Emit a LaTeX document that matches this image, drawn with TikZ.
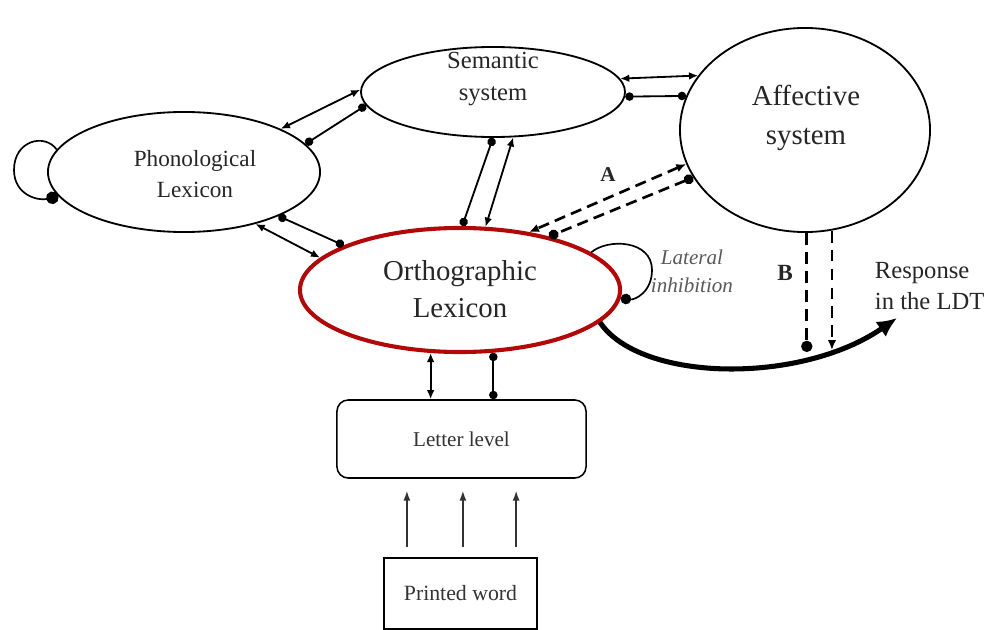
\documentclass[tikz,border=0pt]{standalone}
\usepackage{fontspec}
\setmainfont{Liberation Serif}
\usetikzlibrary{shapes.geometric,arrows.meta}
\definecolor{orthred}{RGB}{178,8,8}
\tikzset{
  unit/.style={ellipse, draw, line width=1.3pt, inner sep=0pt},
  box/.style={draw, line width=1.1pt, inner sep=0pt, align=center, text=black!80},
  excit/.style={line width=1.3pt, {Latex[length=6.5pt,width=5.5pt]}-{Latex[length=6.5pt,width=5.5pt]}},
  inhib/.style={line width=1.3pt, {Circle[length=6pt]}-{Circle[length=6pt]}},
  dashA/.style={line width=1.9pt, dash pattern=on 8pt off 4.5pt},
  dashB/.style={line width=1.9pt, dash pattern=on 8.5pt off 5pt},
  uparrow/.style={line width=1pt, black!80, -{Latex[length=7pt,width=5pt]}, shorten <=0.25cm, shorten >=0.3cm}
}

\begin{document}
\begin{tikzpicture}[x=0.025cm, y=-0.025cm]
			%%%%% START %%%%%
			\useasboundingbox (0,0) rectangle (985,630);

			\node[unit, minimum width=6.6cm, minimum height=2.25cm] (sem) at (493,92) {};
			\node[font=\fontsize{17.5}{23}\selectfont, align=center, text=black!85] (semtext) at (493,79) {Semantic\\system};

			\node[unit, minimum width=6.25cm, minimum height=5.1cm] (aff) at (805,130) {};
			\node[font=\fontsize{20.5}{27.5}\selectfont, align=center, text=black!85] (afftext) at (806,118) {Affective\\system};

			\node[unit, minimum width=6.8cm, minimum height=3cm] (phon) at (184,172) {};
			\node[font=\fontsize{16.5}{22.5}\selectfont, align=center, text=black!85] (phontext) at (195,174) {Phonological\\Lexicon};

			\node[ellipse, draw=orthred, line width=2.9pt, inner sep=0pt, minimum width=8cm, minimum height=3.1cm] (orth) at (460,290) {};
			\node[font=\fontsize{20.5}{26}\selectfont, align=center, text=black!85] (orthtext) at (460,289) {Orthographic\\Lexicon};

			\node[box, rounded corners=8pt, minimum width=6.225cm, minimum height=1.95cm, font=\fontsize{15}{18}\selectfont] (lvl) at (461.5,439) {Letter level};
			\node[box, minimum width=3.825cm, minimum height=1.775cm, font=\fontsize{15.5}{18}\selectfont] (pw) at (460.5,593.5) {Printed word};

			% semantic -- phonological
			\draw[excit] (phon.24.3) -- (sem.179.1);
			\draw[inhib] (phon.13.4) -- (sem.186);

			% semantic -- affective
			\draw[excit] (sem.6.9) -- (aff.153.6);
			\draw[inhib] (sem.-2.2) -- (aff.164.4);

			% phonological -- orthographic
			\draw[inhib] (phon.335.9) -- (orth.159.9);
			\draw[excit] (phon.324.3) -- (orth.167.1);

			% semantic -- orthographic
			\draw[inhib] (sem.270) -- (orth.88.4);
			\draw[excit] (sem.294.6) -- (orth.68.3);

			% affective -- orthographic (A)
			\draw[dashA, {Latex[length=7pt,width=6pt]}-{Latex[length=7pt,width=6pt]}] (aff.196) -- (orth.40.6);
			\draw[dashA, {Circle[length=7pt]}-{Circle[length=7pt]}] (aff.203.2) -- (orth.31.4);
			\node[font=\bfseries\fontsize{15}{18}\selectfont, text=black!85] (labA) at (608,175) {A};

			% orthographic -- letter level
			\draw[excit] (orth.245.3) -- (orth.245.3 |- lvl.north);
			\draw[inhib] (orth.298.6) -- (orth.298.6 |- lvl.north);

			% printed word -- letter level
			\foreach \dx in {-1.34,0.06,1.39}
				\draw[uparrow] ([xshift=\dx cm]pw.north) -- ([xshift=\dx cm]pw.north |- lvl.south);

			% self loops
			\draw[line width=1.2pt, -{Circle[length=9pt]}] (phon.170) .. controls (45,133) and (14,140) .. (14,170) .. controls (14,195) and (38,201) .. (phon.191);
			\draw[line width=1.2pt, -{Circle[length=7.5pt]}] (orth.16) .. controls (608,238) and (652,240) .. (652,270) .. controls (652,292) and (635,300) .. (orth.357);
			\node[font=\itshape\fontsize{15}{20}\selectfont, align=center, text=black!65] (lattext) at (692,271) {Lateral\\inhibition};

			% response
			\coordinate (resp) at (897,318);
			\draw[line width=3.6pt, -{Latex[length=14pt,width=13pt]}] (orth.347) .. controls (640,382) and (800,385) .. (resp);
			\node[font=\fontsize{17.5}{22.5}\selectfont, align=left, anchor=west, text=black!85] (resptext) at (870,286) {Response\\in the LDT};

			% affective -- response (B)
			\coordinate (bdot) at (808,352);
			\coordinate (barrow) at (832,350);
			\draw[dashB, -{Circle[length=8pt]}] (aff.271.7) -- (aff.271.7 |- bdot);
			\draw[dashB, -{Latex[length=7pt,width=6pt]}] (aff.285.2) -- (aff.285.2 |- barrow);
			\node[font=\bfseries\fontsize{16.5}{18}\selectfont, text=black!85] (labB) at (785,273) {B};

			%%%%% END %%%%%
\end{tikzpicture}
\end{document}
